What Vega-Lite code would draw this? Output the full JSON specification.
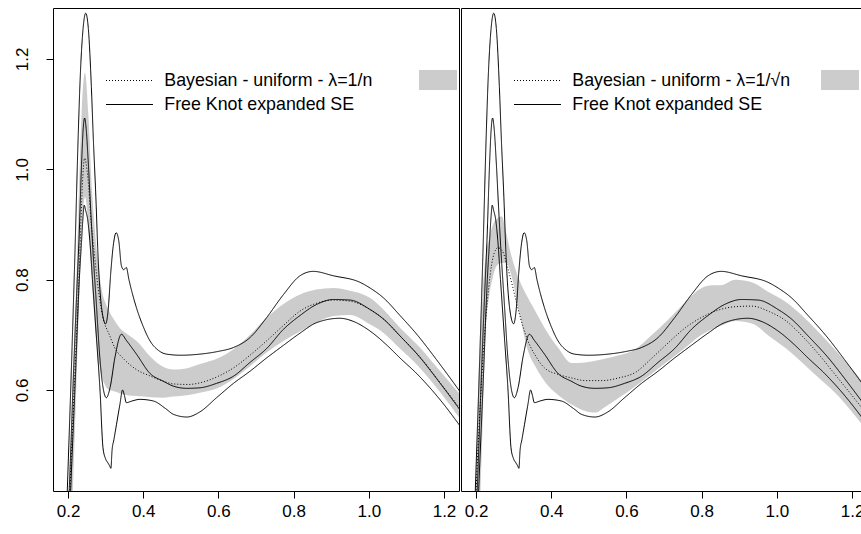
{
  "$schema": "https://vega.github.io/schema/vega-lite/v6.json",
  "padding": {"left": 12, "top": 7, "right": -2, "bottom": 12},
  "background": "white",
  "spacing": 0,
  "config": {
    "view": {"stroke": "black", "strokeWidth": 1},
    "font": "Liberation Sans",
    "axis": {"labelFont": "Liberation Sans", "labelFontSize": 17, "labelColor": "black", "tickColor": "black", "tickSize": 7, "tickWidth": 1, "domain": false, "grid": false, "title": null, "labelFlush": false, "labelOverlap": false, "labelBound": false},
    "legend": {"labelFont": "Liberation Sans", "labelFontSize": 17.8, "labelColor": "black", "padding": 0, "title": null, "labelLimit": 0}
  },
  "datasets": {
    "fk": [
      {"c":"upper","x":0.190,"y":0.25},{"c":"upper","x":0.198,"y":0.417},{"c":"upper","x":0.208,"y":0.62},{"c":"upper","x":0.218,"y":0.84},{"c":"upper","x":0.227,"y":1.06},{"c":"upper","x":0.232,"y":1.16},{"c":"upper","x":0.240,"y":1.255},{"c":"upper","x":0.247,"y":1.283},{"c":"upper","x":0.254,"y":1.255},{"c":"upper","x":0.262,"y":1.15},{"c":"upper","x":0.267,"y":1.06},{"c":"upper","x":0.274,"y":0.95},{"c":"upper","x":0.280,"y":0.84},{"c":"upper","x":0.290,"y":0.745},{"c":"upper","x":0.300,"y":0.72},{"c":"upper","x":0.306,"y":0.74},{"c":"upper","x":0.314,"y":0.816},{"c":"upper","x":0.320,"y":0.86},{"c":"upper","x":0.328,"y":0.885},{"c":"upper","x":0.335,"y":0.87},{"c":"upper","x":0.342,"y":0.825},{"c":"upper","x":0.348,"y":0.818},{"c":"upper","x":0.355,"y":0.822},{"c":"upper","x":0.362,"y":0.80},{"c":"upper","x":0.382,"y":0.749},{"c":"upper","x":0.400,"y":0.715},{"c":"upper","x":0.418,"y":0.689},{"c":"upper","x":0.440,"y":0.672},{"c":"upper","x":0.462,"y":0.665},{"c":"upper","x":0.500,"y":0.663},{"c":"upper","x":0.551,"y":0.665},{"c":"upper","x":0.600,"y":0.670},{"c":"upper","x":0.640,"y":0.677},{"c":"upper","x":0.684,"y":0.695},{"c":"upper","x":0.728,"y":0.731},{"c":"upper","x":0.773,"y":0.773},{"c":"upper","x":0.817,"y":0.807},{"c":"upper","x":0.852,"y":0.815},{"c":"upper","x":0.906,"y":0.807},{"c":"upper","x":0.977,"y":0.795},{"c":"upper","x":1.003,"y":0.785},{"c":"upper","x":1.039,"y":0.767},{"c":"upper","x":1.083,"y":0.735},{"c":"upper","x":1.130,"y":0.699},{"c":"upper","x":1.180,"y":0.655},{"c":"upper","x":1.216,"y":0.622},{"c":"upper","x":1.250,"y":0.590},
      {"c":"mid","x":0.195,"y":0.30},{"c":"mid","x":0.203,"y":0.417},{"c":"mid","x":0.215,"y":0.64},{"c":"mid","x":0.222,"y":0.76},{"c":"mid","x":0.229,"y":0.87},{"c":"mid","x":0.236,"y":1.01},{"c":"mid","x":0.240,"y":1.07},{"c":"mid","x":0.244,"y":1.093},{"c":"mid","x":0.248,"y":1.075},{"c":"mid","x":0.254,"y":1.01},{"c":"mid","x":0.260,"y":0.93},{"c":"mid","x":0.266,"y":0.855},{"c":"mid","x":0.275,"y":0.76},{"c":"mid","x":0.285,"y":0.655},{"c":"mid","x":0.293,"y":0.605},{"c":"mid","x":0.302,"y":0.586},{"c":"mid","x":0.312,"y":0.605},{"c":"mid","x":0.325,"y":0.66},{"c":"mid","x":0.342,"y":0.701},{"c":"mid","x":0.355,"y":0.69},{"c":"mid","x":0.382,"y":0.665},{"c":"mid","x":0.418,"y":0.630},{"c":"mid","x":0.453,"y":0.616},{"c":"mid","x":0.480,"y":0.607},{"c":"mid","x":0.516,"y":0.603},{"c":"mid","x":0.551,"y":0.604},{"c":"mid","x":0.595,"y":0.612},{"c":"mid","x":0.640,"y":0.625},{"c":"mid","x":0.684,"y":0.650},{"c":"mid","x":0.728,"y":0.675},{"c":"mid","x":0.773,"y":0.710},{"c":"mid","x":0.817,"y":0.735},{"c":"mid","x":0.861,"y":0.755},{"c":"mid","x":0.906,"y":0.764},{"c":"mid","x":0.950,"y":0.763},{"c":"mid","x":1.003,"y":0.746},{"c":"mid","x":1.040,"y":0.728},{"c":"mid","x":1.083,"y":0.698},{"c":"mid","x":1.136,"y":0.659},{"c":"mid","x":1.190,"y":0.612},{"c":"mid","x":1.250,"y":0.557},
      {"c":"lower","x":0.198,"y":0.25},{"c":"lower","x":0.207,"y":0.417},{"c":"lower","x":0.220,"y":0.63},{"c":"lower","x":0.230,"y":0.80},{"c":"lower","x":0.236,"y":0.87},{"c":"lower","x":0.240,"y":0.915},{"c":"lower","x":0.243,"y":0.935},{"c":"lower","x":0.247,"y":0.925},{"c":"lower","x":0.252,"y":0.91},{"c":"lower","x":0.258,"y":0.87},{"c":"lower","x":0.265,"y":0.80},{"c":"lower","x":0.275,"y":0.70},{"c":"lower","x":0.285,"y":0.60},{"c":"lower","x":0.293,"y":0.495},{"c":"lower","x":0.300,"y":0.475},{"c":"lower","x":0.306,"y":0.468},{"c":"lower","x":0.311,"y":0.462},{"c":"lower","x":0.314,"y":0.458},{"c":"lower","x":0.317,"y":0.49},{"c":"lower","x":0.322,"y":0.51},{"c":"lower","x":0.329,"y":0.538},{"c":"lower","x":0.338,"y":0.574},{"c":"lower","x":0.345,"y":0.600},{"c":"lower","x":0.350,"y":0.590},{"c":"lower","x":0.355,"y":0.577},{"c":"lower","x":0.370,"y":0.580},{"c":"lower","x":0.391,"y":0.583},{"c":"lower","x":0.427,"y":0.580},{"c":"lower","x":0.460,"y":0.566},{"c":"lower","x":0.480,"y":0.556},{"c":"lower","x":0.516,"y":0.551},{"c":"lower","x":0.550,"y":0.560},{"c":"lower","x":0.595,"y":0.586},{"c":"lower","x":0.640,"y":0.612},{"c":"lower","x":0.684,"y":0.634},{"c":"lower","x":0.728,"y":0.658},{"c":"lower","x":0.773,"y":0.681},{"c":"lower","x":0.817,"y":0.703},{"c":"lower","x":0.861,"y":0.722},{"c":"lower","x":0.923,"y":0.730},{"c":"lower","x":0.960,"y":0.724},{"c":"lower","x":1.003,"y":0.707},{"c":"lower","x":1.050,"y":0.680},{"c":"lower","x":1.083,"y":0.658},{"c":"lower","x":1.127,"y":0.630},{"c":"lower","x":1.190,"y":0.582},{"c":"lower","x":1.250,"y":0.528}
    ],
    "bayesL": [
      {"x":0.195,"y":0.25},{"x":0.205,"y":0.417},{"x":0.218,"y":0.63},{"x":0.231,"y":0.84},{"x":0.238,"y":0.97},{"x":0.244,"y":1.02},{"x":0.252,"y":0.99},{"x":0.262,"y":0.90},{"x":0.271,"y":0.84},{"x":0.283,"y":0.77},{"x":0.293,"y":0.731},{"x":0.310,"y":0.700},{"x":0.324,"y":0.677},{"x":0.350,"y":0.655},{"x":0.382,"y":0.637},{"x":0.420,"y":0.625},{"x":0.453,"y":0.616},{"x":0.480,"y":0.611},{"x":0.520,"y":0.610},{"x":0.551,"y":0.613},{"x":0.600,"y":0.625},{"x":0.640,"y":0.640},{"x":0.684,"y":0.663},{"x":0.728,"y":0.689},{"x":0.773,"y":0.717},{"x":0.817,"y":0.743},{"x":0.860,"y":0.757},{"x":0.906,"y":0.763},{"x":0.950,"y":0.761},{"x":1.003,"y":0.746},{"x":1.040,"y":0.728},{"x":1.083,"y":0.698},{"x":1.136,"y":0.660},{"x":1.190,"y":0.613},{"x":1.250,"y":0.560}
    ],
    "bandL": [
      {"x":0.200,"lo":0.30,"hi":0.35},{"x":0.205,"lo":0.30,"hi":0.45},{"x":0.212,"lo":0.40,"hi":0.58},{"x":0.220,"lo":0.56,"hi":0.75},{"x":0.228,"lo":0.73,"hi":0.93},{"x":0.236,"lo":0.88,"hi":1.10},{"x":0.245,"lo":0.95,"hi":1.175},{"x":0.254,"lo":0.90,"hi":1.10},{"x":0.262,"lo":0.81,"hi":0.98},{"x":0.270,"lo":0.73,"hi":0.90},{"x":0.280,"lo":0.66,"hi":0.83},{"x":0.290,"lo":0.625,"hi":0.78},{"x":0.300,"lo":0.607,"hi":0.757},{"x":0.310,"lo":0.600,"hi":0.742},{"x":0.320,"lo":0.598,"hi":0.730},{"x":0.337,"lo":0.594,"hi":0.713},{"x":0.360,"lo":0.590,"hi":0.700},{"x":0.382,"lo":0.589,"hi":0.689},{"x":0.420,"lo":0.587,"hi":0.660},{"x":0.453,"lo":0.586,"hi":0.642},{"x":0.480,"lo":0.588,"hi":0.637},{"x":0.520,"lo":0.591,"hi":0.640},{"x":0.551,"lo":0.595,"hi":0.647},{"x":0.600,"lo":0.604,"hi":0.658},{"x":0.640,"lo":0.620,"hi":0.674},{"x":0.684,"lo":0.643,"hi":0.700},{"x":0.728,"lo":0.668,"hi":0.731},{"x":0.773,"lo":0.689,"hi":0.756},{"x":0.817,"lo":0.706,"hi":0.773},{"x":0.860,"lo":0.722,"hi":0.782},{"x":0.906,"lo":0.734,"hi":0.785},{"x":0.950,"lo":0.736,"hi":0.780},{"x":1.003,"lo":0.719,"hi":0.767},{"x":1.040,"lo":0.703,"hi":0.745},{"x":1.083,"lo":0.675,"hi":0.713},{"x":1.136,"lo":0.640,"hi":0.677},{"x":1.190,"lo":0.596,"hi":0.634},{"x":1.250,"lo":0.541,"hi":0.586}
    ],
    "bayesR": [
      {"x":0.190,"y":0.25},{"x":0.200,"y":0.417},{"x":0.215,"y":0.62},{"x":0.230,"y":0.76},{"x":0.245,"y":0.84},{"x":0.258,"y":0.858},{"x":0.270,"y":0.852},{"x":0.284,"y":0.822},{"x":0.300,"y":0.78},{"x":0.311,"y":0.749},{"x":0.338,"y":0.689},{"x":0.360,"y":0.660},{"x":0.382,"y":0.640},{"x":0.420,"y":0.628},{"x":0.453,"y":0.622},{"x":0.491,"y":0.617},{"x":0.535,"y":0.617},{"x":0.580,"y":0.622},{"x":0.624,"y":0.632},{"x":0.668,"y":0.658},{"x":0.712,"y":0.686},{"x":0.757,"y":0.713},{"x":0.801,"y":0.732},{"x":0.845,"y":0.745},{"x":0.890,"y":0.751},{"x":0.934,"y":0.752},{"x":0.980,"y":0.742},{"x":1.023,"y":0.726},{"x":1.067,"y":0.698},{"x":1.111,"y":0.665},{"x":1.156,"y":0.627},{"x":1.200,"y":0.590},{"x":1.240,"y":0.555}
    ],
    "bandR": [
      {"x":0.192,"lo":0.30,"hi":0.35},{"x":0.198,"lo":0.30,"hi":0.417},{"x":0.205,"lo":0.30,"hi":0.55},{"x":0.212,"lo":0.417,"hi":0.69},{"x":0.218,"lo":0.55,"hi":0.78},{"x":0.225,"lo":0.70,"hi":0.84},{"x":0.235,"lo":0.77,"hi":0.875},{"x":0.245,"lo":0.805,"hi":0.90},{"x":0.255,"lo":0.825,"hi":0.91},{"x":0.268,"lo":0.83,"hi":0.915},{"x":0.280,"lo":0.83,"hi":0.885},{"x":0.293,"lo":0.81,"hi":0.846},{"x":0.315,"lo":0.74,"hi":0.80},{"x":0.338,"lo":0.671,"hi":0.767},{"x":0.360,"lo":0.640,"hi":0.740},{"x":0.382,"lo":0.616,"hi":0.713},{"x":0.420,"lo":0.590,"hi":0.675},{"x":0.453,"lo":0.574,"hi":0.649},{"x":0.490,"lo":0.562,"hi":0.650},{"x":0.517,"lo":0.559,"hi":0.653},{"x":0.545,"lo":0.570,"hi":0.657},{"x":0.580,"lo":0.586,"hi":0.663},{"x":0.624,"lo":0.607,"hi":0.674},{"x":0.668,"lo":0.630,"hi":0.700},{"x":0.712,"lo":0.653,"hi":0.728},{"x":0.757,"lo":0.677,"hi":0.760},{"x":0.800,"lo":0.700,"hi":0.785},{"x":0.828,"lo":0.710,"hi":0.790},{"x":0.850,"lo":0.716,"hi":0.790},{"x":0.890,"lo":0.725,"hi":0.800},{"x":0.935,"lo":0.720,"hi":0.795},{"x":0.979,"lo":0.698,"hi":0.777},{"x":1.023,"lo":0.676,"hi":0.760},{"x":1.067,"lo":0.650,"hi":0.735},{"x":1.111,"lo":0.622,"hi":0.705},{"x":1.156,"lo":0.594,"hi":0.672},{"x":1.200,"lo":0.560,"hi":0.638},{"x":1.240,"lo":0.525,"hi":0.605}
    ]
  },
  "resolve": {"scale": {"strokeDash": "independent", "fill": "independent", "x": "independent"}, "legend": {"strokeDash": "independent", "fill": "independent"}},
  "hconcat": [
    {
      "width": 406,
      "height": 483,
      "layer": [
        {
          "data": {"name": "bandL"},
          "mark": {"type": "area", "clip": true, "opacity": 1, "interpolate": "monotone"},
          "encoding": {
            "x": {"field": "x", "type": "quantitative", "scale": {"domain": [0.16, 1.2399], "nice": false, "zero": false}, "axis": {"values": [0.2, 0.4, 0.6, 0.8, 1.0, 1.2], "format": ".1f", "labelPadding": 5}},
            "y": {"field": "lo", "type": "quantitative", "scale": {"domain": [0.4169, 1.2924], "nice": false, "zero": false}, "axis": {"values": [0.6, 0.8, 1.0, 1.2], "format": ".1f", "labelAngle": 270, "labelAlign": "center", "labelBaseline": "bottom", "labelPadding": 15}},
            "y2": {"field": "hi"},
            "fill": {"datum": "band", "scale": {"range": ["#cccccc"]}, "legend": {"orient": "none", "legendX": 366, "legendY": 53, "symbolType": "M-1,-0.526H1V0.526H-1Z", "symbolSize": 1444, "symbolStrokeWidth": 0, "symbolFillColor": "#cccccc", "symbolOpacity": 1, "labelExpr": "''", "labelOffset": 0}}
          }
        },
        {
          "data": {"name": "bayesL"},
          "mark": {"type": "line", "clip": true, "color": "black", "strokeWidth": 1, "interpolate": "monotone"},
          "encoding": {
            "x": {"field": "x", "type": "quantitative"},
            "y": {"field": "y", "type": "quantitative"},
            "strokeDash": {"datum": "Bayesian - uniform - λ=1/n", "scale": {"domain": ["Bayesian - uniform - λ=1/n", "Free Knot expanded SE"], "range": [[1, 2], [1, 0]]}, "legend": {"orient": "none", "legendX": 66.5, "legendY": 62.5, "symbolType": "M-2.5,0H2.5", "symbolSize": 353, "symbolStrokeWidth": 1, "symbolStrokeColor": "black", "labelOffset": 24.8, "rowPadding": 5}}
          }
        },
        {
          "data": {"name": "fk"},
          "mark": {"type": "line", "clip": true, "color": "black", "strokeWidth": 1, "interpolate": "monotone"},
          "encoding": {
            "x": {"field": "x", "type": "quantitative"},
            "y": {"field": "y", "type": "quantitative"},
            "detail": {"field": "c"},
            "strokeDash": {"datum": "Free Knot expanded SE"}
          }
        }
      ]
    },
    {
      "width": 402,
      "height": 483,
      "layer": [
        {
          "data": {"name": "bandR"},
          "mark": {"type": "area", "clip": true, "opacity": 1, "interpolate": "monotone"},
          "encoding": {
            "x": {"field": "x", "type": "quantitative", "scale": {"domain": [0.16, 1.2291], "nice": false, "zero": false}, "axis": {"values": [0.2, 0.4, 0.6, 0.8, 1.0, 1.2], "format": ".1f", "labelPadding": 5}},
            "y": {"field": "lo", "type": "quantitative", "scale": {"domain": [0.4169, 1.2924], "nice": false, "zero": false}, "axis": null},
            "y2": {"field": "hi"},
            "fill": {"datum": "band", "scale": {"range": ["#cccccc"]}, "legend": {"orient": "none", "legendX": 360, "legendY": 53, "symbolType": "M-1,-0.526H1V0.526H-1Z", "symbolSize": 1444, "symbolStrokeWidth": 0, "symbolFillColor": "#cccccc", "symbolOpacity": 1, "labelExpr": "''", "labelOffset": 0}}
          }
        },
        {
          "data": {"name": "bayesR"},
          "mark": {"type": "line", "clip": true, "color": "black", "strokeWidth": 1, "interpolate": "monotone"},
          "encoding": {
            "x": {"field": "x", "type": "quantitative"},
            "y": {"field": "y", "type": "quantitative"},
            "strokeDash": {"datum": "Bayesian - uniform - λ=1/√n", "scale": {"domain": ["Bayesian - uniform - λ=1/√n", "Free Knot expanded SE"], "range": [[1, 2], [1, 0]]}, "legend": {"orient": "none", "legendX": 66.5, "legendY": 62.5, "symbolType": "M-2.5,0H2.5", "symbolSize": 353, "symbolStrokeWidth": 1, "symbolStrokeColor": "black", "labelOffset": 24.8, "rowPadding": 5}}
          }
        },
        {
          "data": {"name": "fk"},
          "mark": {"type": "line", "clip": true, "color": "black", "strokeWidth": 1, "interpolate": "monotone"},
          "encoding": {
            "x": {"field": "x", "type": "quantitative"},
            "y": {"field": "y", "type": "quantitative"},
            "detail": {"field": "c"},
            "strokeDash": {"datum": "Free Knot expanded SE"}
          }
        }
      ]
    }
  ]
}
